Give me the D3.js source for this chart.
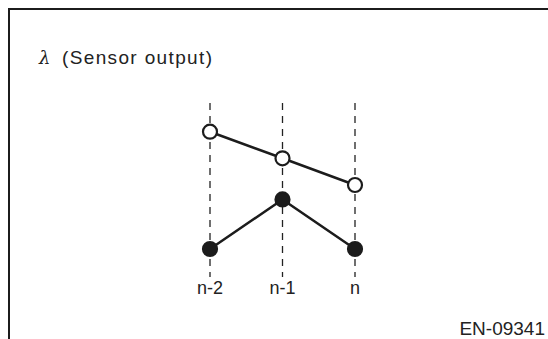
<!DOCTYPE html>
<html>
<head>
<meta charset="utf-8">
<script src="https://cdn.jsdelivr.net/npm/d3@7"></script>
<style>
  html, body { margin: 0; padding: 0; background: #fff; }
  svg { display: block; }
  text { font-family: "Liberation Sans", Arial, Helvetica, sans-serif; fill: #222; }
</style>
</head>
<body>
<svg id="chart" width="548" height="339"></svg>
<script>
// samples along the time axis
const samples = ["n-2", "n-1", "n"];
// sensor output (arbitrary units) for the two sequences
const upperValues = [8.33, 6.67, 5.0];
const lowerValues = [1.0, 4.1, 1.0];
const titleText = "(Sensor output)";
const figureCode = "EN-09341";

const svg = d3.select("#chart");
const width = 548, height = 339;

// frame: top and left edge only
svg.append("path")
  .attr("d", "M9," + height + "V9H" + width)
  .attr("fill", "none")
  .attr("stroke", "#1c1c1c")
  .attr("stroke-width", 2);

// title
svg.append("text")
  .attr("x", 39)
  .attr("y", 64)
  .style("font-family", "'DejaVu Serif', serif")
  .style("font-style", "italic")
  .style("font-size", "18px")
  .text("λ");
svg.append("text")
  .attr("x", 62)
  .attr("y", 64)
  .attr("textLength", 150)
  .attr("lengthAdjust", "spacing")
  .style("font-size", "19px")
  .text(titleText);

const x = d3.scalePoint().domain(samples).range([210, 355]);
const y = d3.scaleLinear().domain([0, 10]).range([265, 105]);

// dashed guides
svg.selectAll(".guide")
  .data(samples)
  .enter().append("line")
  .attr("class", "guide")
  .attr("x1", d => x(d))
  .attr("x2", d => x(d))
  .attr("y1", 103)
  .attr("y2", 277)
  .attr("stroke", "#222")
  .attr("stroke-width", 1.3)
  .attr("stroke-dasharray", "7,6");

// sample labels
svg.selectAll(".label")
  .data(samples)
  .enter().append("text")
  .attr("class", "label")
  .attr("x", d => x(d))
  .attr("y", 294)
  .attr("text-anchor", "middle")
  .style("font-size", "18px")
  .text(d => d);

const line = d3.line()
  .x((d, i) => x(samples[i]))
  .y(d => y(d));

function series (values, fill) {
  svg.append("path")
    .datum(values)
    .attr("d", line)
    .attr("fill", "none")
    .attr("stroke", "#1c1c1c")
    .attr("stroke-width", 2.5);
  svg.selectAll(null)
    .data(values)
    .enter().append("circle")
    .attr("cx", (d, i) => x(samples[i]))
    .attr("cy", d => y(d))
    .attr("r", 7)
    .attr("fill", fill)
    .attr("stroke", "#1c1c1c")
    .attr("stroke-width", 2.2);
}

series(upperValues, "#fff");
series(lowerValues, "#1c1c1c");

// figure code
svg.append("text")
  .attr("x", 545)
  .attr("y", 335)
  .attr("text-anchor", "end")
  .style("font-size", "19px")
  .text(figureCode);
</script>
</body>
</html>
